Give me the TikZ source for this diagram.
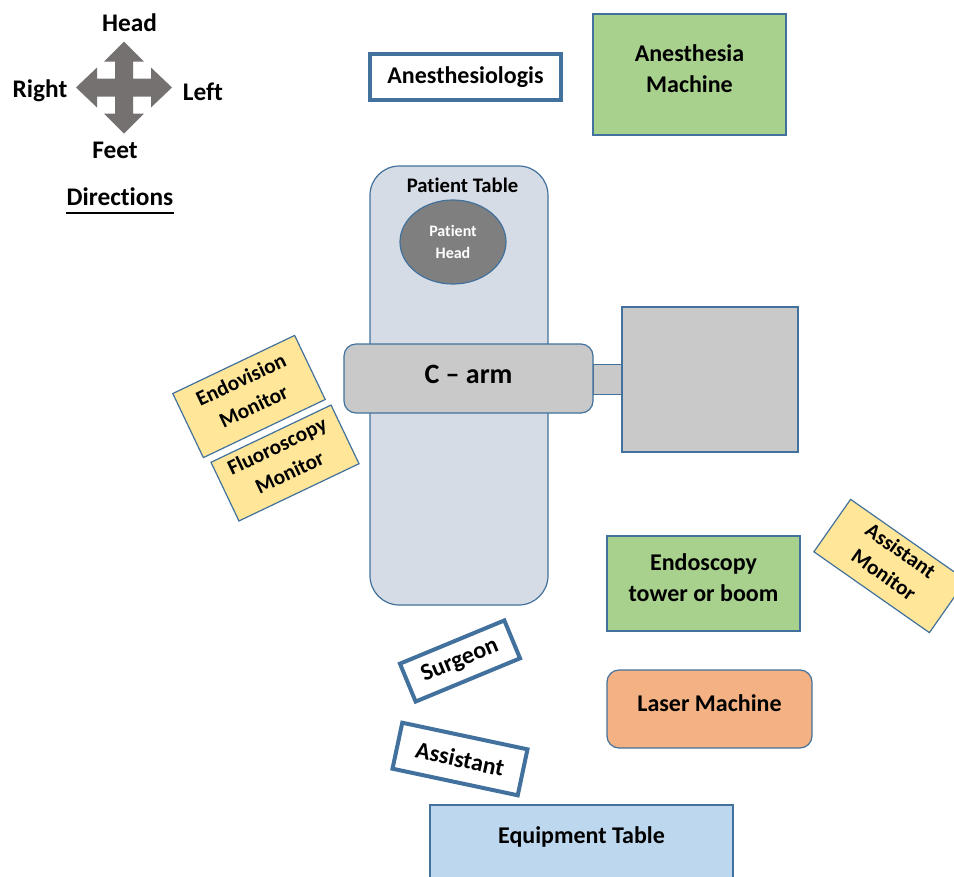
\documentclass[tikz,border=0pt]{standalone}
\usepackage{fontspec}
\setmainfont{Carlito}[Ligatures={TeX,NoCommon}]
\usetikzlibrary{shapes.geometric}
\definecolor{bord}{HTML}{41719C}
\definecolor{boxgreen}{HTML}{A9D18E}
\definecolor{monyellow}{HTML}{FFE699}
\definecolor{laserorange}{HTML}{F4B183}
\definecolor{eqblue}{HTML}{BDD7EE}
\definecolor{tablegray}{HTML}{D6DCE5}
\definecolor{carmgray}{HTML}{C9C9C9}
\definecolor{headgray}{HTML}{7F7F7F}
\definecolor{arrowgray}{HTML}{767171}
\begin{document}
\begin{tikzpicture}[x=0.75pt,y=-0.75pt,
  outl/.style={draw=bord, line width=0.9pt},
  dp/.style={execute at end node={\rule[-#1]{0pt}{0pt}}},
  dirlbl/.style={inner sep=0pt, anchor=base, font=\fontsize{19}{22}\selectfont\bfseries},
  sbox/.style={outl, align=center, inner sep=0pt, font=\fontsize{18}{23}\selectfont\bfseries, dp=0.5em},
  person/.style={draw=bord, line width=3pt, fill=white, align=center, inner sep=0pt, font=\fontsize{18}{22}\selectfont\bfseries},
  monitor/.style={outl, fill=monyellow, align=center, inner sep=0pt, font=\fontsize{16}{22}\selectfont\bfseries, dp=0.4em},
]
\clip (0,0) rectangle (954,876);
\useasboundingbox (0,0) rectangle (954,876);

% directions
\begin{scope}[shift={(124,87.5)}]
\fill[arrowgray] (0,-46) -- (20,-26) -- (9,-26) -- (9,-9) -- (27,-9) -- (27,-20) -- (48,0)
  -- (27,20) -- (27,9) -- (9,9) -- (9,26) -- (20,26) -- (0,46) -- (-20,26) -- (-9,26)
  -- (-9,9) -- (-27,9) -- (-27,20) -- (-48,0) -- (-27,-20) -- (-27,-9) -- (-9,-9)
  -- (-9,-26) -- (-20,-26) -- cycle;
\end{scope}
\node[dirlbl] (head) at (129.5,31) {Head};
\node[dirlbl] (right) at (40,97) {Right};
\node[dirlbl] (left) at (203,100) {Left};
\node[dirlbl] (feet) at (115,158) {Feet};
\node[dirlbl] (dirs) at (120,205) {Directions};
\draw[line width=1.5pt] ([yshift=-6pt]dirs.base west) -- ([yshift=-6pt]dirs.base east);

% anesthesia
\node[person, minimum width={191*0.75pt}, minimum height={46*0.75pt}] (anes) at (465.5,77) {Anesthesiologis};
\node[sbox, fill=boxgreen, minimum width={193*0.75pt}, minimum height={121*0.75pt}] (am) at (689.5,74.5) {Anesthesia\\Machine};

% table
\node[outl, fill=tablegray, rounded corners=22pt, minimum width={178*0.75pt}, minimum height={439*0.75pt}] (table) at (459,385.5) {};
\node[inner sep=0pt, anchor=base, font=\fontsize{15.5}{18}\selectfont\bfseries] (tablelbl) at (462.5,192) {Patient Table};
\node[outl, ellipse, fill=headgray, inner sep=0pt, minimum width={106*0.75pt}, minimum height={84*0.75pt}, text=white, align=center, font=\fontsize{12}{16.5}\selectfont\bfseries] (phead) at (453,242) {Patient\\Head};

% C-arm
\node[outl, fill=carmgray, minimum width={29*0.75pt}, minimum height={30*0.75pt}] (conn) at (607.5,379.5) {};
\node[outl, fill=carmgray, minimum width={176*0.75pt}, minimum height={145*0.75pt}] (detector) at (710,379.5) {};
\node[outl, fill=carmgray, rounded corners=9pt, minimum width={249*0.75pt}, minimum height={69*0.75pt}, font=\fontsize{21}{25}\selectfont\bfseries, inner sep=0pt, dp=0.3em] (carm) at (468.5,378.5) {C – arm};

% monitors
\node[monitor, rotate=25.5, minimum width={135*0.75pt}, minimum height={71*0.75pt}] (endomon) at (249,396.5) {Endovision\\Monitor};
\node[monitor, rotate=25.5, minimum width={133*0.75pt}, minimum height={65*0.75pt}] (fluomon) at (285,463) {Fluoroscopy\\Monitor};
\node[monitor, rotate=-35, minimum width={141*0.75pt}, minimum height={64*0.75pt}] (asmon) at (890,566) {Assistant\\Monitor};

% equipment
\node[sbox, fill=boxgreen, minimum width={193*0.75pt}, minimum height={95*0.75pt}] (endo) at (703.5,583.5) {Endoscopy\\tower or boom};
\node[sbox, fill=laserorange, rounded corners=9pt, minimum width={205*0.75pt}, minimum height={78*0.75pt}] (laser) at (709.5,709) {Laser Machine};

% people
\node[person, rotate=22.5, minimum width={113*0.75pt}, minimum height={41*0.75pt}] (surgeon) at (460,661) {Surgeon};
\node[person, rotate=-12, minimum width={128*0.75pt}, minimum height={47*0.75pt}] (assistant) at (460,759) {Assistant};

% equipment table
\path[outl, fill=eqblue] (430,805) rectangle (733,890);
\node[inner sep=0pt, anchor=base, font=\fontsize{18}{22}\selectfont\bfseries] (eq) at (581.5,843.3) {Equipment Table};
\end{tikzpicture}
\end{document}
